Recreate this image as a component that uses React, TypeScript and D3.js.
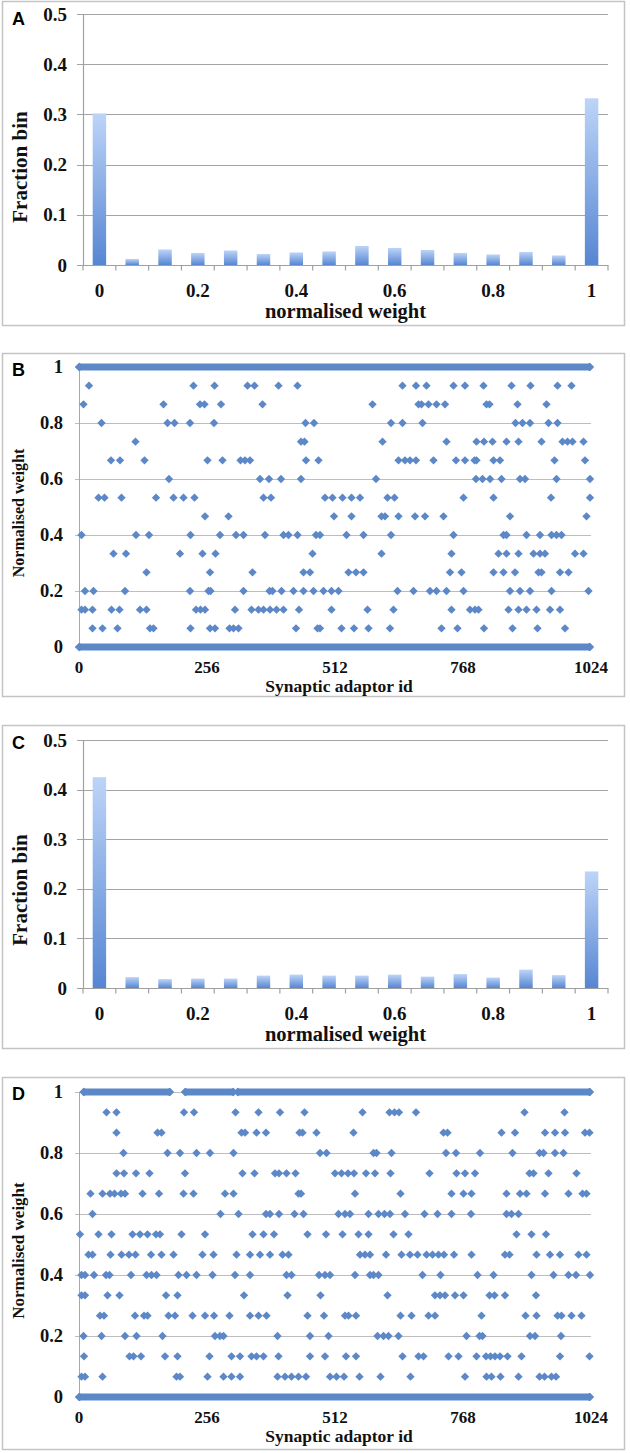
import React from 'react';
import * as d3 from 'd3';

// ---------- Histogram data (panels A and C) ----------
const HIST_BIN_IDS = [0, 1, 2, 3, 4, 5, 6, 7, 8, 9, 10, 11, 12, 13, 14, 15];
const HIST_TICK_BINS = [0, 3, 6, 9, 12, 15];
const HIST_TICK_LABELS = ['0', '0.2', '0.4', '0.6', '0.8', '1'];
const HIST_Y_TICKS = [0, 0.1, 0.2, 0.3, 0.4, 0.5];
const HIST_Y_LABELS = ['0', '0.1', '0.2', '0.3', '0.4', '0.5'];
const A_FRACTIONS = [0.302, 0.012, 0.031, 0.024, 0.029, 0.022, 0.025, 0.027, 0.038, 0.034, 0.030, 0.024, 0.021, 0.026, 0.019, 0.332];
const C_FRACTIONS = [0.425, 0.022, 0.018, 0.019, 0.019, 0.025, 0.027, 0.025, 0.025, 0.027, 0.023, 0.028, 0.021, 0.037, 0.026, 0.235];

// ---------- Scatter data (panels B and D) ----------
const SCATTER_X_TICKS = [0, 256, 512, 768, 1024];
const SCATTER_Y_TICKS = [0, 0.2, 0.4, 0.6, 0.8, 1];
const SCATTER_Y_LABELS = ['0', '0.2', '0.4', '0.6', '0.8', '1'];
const WEIGHT_STEPS = 15; // weights are k/15

// ids whose weight is k/15, index = k (levels 1..14); levels 0 and 15 are given as runs
const B_IDS_BY_LEVEL: number[][] = [
  [],
  [27, 47, 77, 142, 149, 223, 262, 272, 301, 309, 319, 434, 477, 482, 525, 550, 579, 622, 725, 757, 810, 867, 917, 972],
  [5, 12, 27, 65, 81, 122, 135, 234, 243, 252, 312, 345, 359, 369, 382, 395, 409, 440, 505, 577, 629, 745, 782, 792, 799, 859, 879, 895, 915, 942, 962],
  [12, 29, 92, 222, 259, 263, 329, 381, 387, 405, 429, 449, 469, 489, 505, 519, 637, 669, 702, 715, 735, 769, 862, 882, 902, 945, 1019],
  [135, 262, 347, 449, 462, 539, 554, 569, 742, 765, 829, 849, 872, 919, 925, 962, 979],
  [69, 94, 202, 247, 273, 467, 605, 745, 839, 855, 879, 909, 922, 932, 992, 1009],
  [5, 114, 140, 223, 282, 314, 329, 372, 409, 419, 437, 474, 482, 535, 569, 624, 749, 849, 855, 895, 922, 945, 955, 965],
  [252, 299, 510, 545, 605, 612, 639, 672, 692, 729, 862, 1015],
  [39, 51, 85, 154, 189, 209, 231, 369, 384, 492, 507, 527, 545, 562, 617, 631, 769, 829, 944, 1022],
  [180, 362, 380, 404, 444, 594, 794, 807, 822, 845, 882, 892, 955, 1022],
  [64, 82, 131, 257, 287, 323, 332, 342, 454, 479, 639, 652, 662, 674, 709, 754, 772, 791, 795, 829, 842, 951, 1012],
  [113, 444, 451, 607, 735, 795, 810, 827, 855, 879, 925, 967, 977, 987, 1009],
  [45, 177, 191, 222, 270, 453, 470, 624, 647, 687, 873, 887, 902, 939, 957],
  [9, 169, 242, 251, 284, 367, 587, 679, 685, 699, 715, 732, 815, 821, 877, 935],
  [20, 229, 271, 337, 351, 399, 437, 647, 674, 695, 749, 772, 809, 865, 903, 957, 985],
  [],
];
const B_ZERO_RUNS = [[0, 1022]];
const B_ONE_RUNS = [[0, 1022]];

const D_IDS_BY_LEVEL: number[][] = [
  [],
  [5, 12, 47, 195, 202, 257, 289, 305, 322, 397, 412, 425, 439, 454, 502, 515, 530, 561, 603, 663, 772, 815, 825, 843, 879, 921, 931, 945, 954],
  [10, 101, 109, 124, 172, 197, 261, 305, 322, 345, 355, 369, 399, 462, 492, 534, 554, 647, 679, 689, 739, 759, 795, 814, 823, 832, 842, 857, 885, 962, 1021],
  [9, 45, 92, 115, 167, 272, 282, 289, 397, 462, 499, 597, 609, 619, 639, 775, 801, 807, 902, 912, 964],
  [42, 50, 112, 130, 137, 179, 192, 227, 252, 270, 301, 342, 359, 375, 457, 490, 532, 539, 554, 643, 665, 699, 712, 805, 893, 915, 957, 965, 985, 1005],
  [5, 12, 57, 81, 174, 197, 330, 417, 483, 617, 712, 722, 732, 752, 769, 821, 831, 852, 914],
  [5, 12, 30, 54, 61, 104, 135, 145, 155, 199, 215, 235, 267, 312, 342, 415, 425, 480, 492, 502, 552, 582, 589, 599, 687, 723, 797, 829, 905, 949, 979, 994, 1022],
  [19, 27, 63, 85, 100, 113, 144, 165, 189, 247, 269, 315, 342, 362, 382, 407, 419, 562, 572, 582, 614, 645, 662, 677, 695, 707, 719, 730, 750, 785, 852, 861, 915, 942, 962, 999, 1015],
  [2, 39, 65, 107, 122, 137, 154, 162, 205, 252, 347, 369, 390, 457, 494, 527, 559, 579, 629, 659, 875, 905, 934],
  [27, 283, 319, 374, 382, 400, 431, 449, 519, 532, 542, 579, 599, 611, 622, 652, 691, 717, 745, 784, 855, 865, 879],
  [23, 47, 62, 71, 84, 92, 127, 160, 209, 229, 292, 309, 439, 444, 552, 643, 745, 769, 785, 855, 882, 895, 932, 979, 1007, 1015],
  [75, 90, 114, 141, 212, 327, 351, 392, 400, 415, 433, 512, 525, 538, 550, 574, 592, 623, 701, 755, 772, 792, 901, 909, 939, 995],
  [89, 177, 202, 235, 262, 309, 482, 495, 589, 595, 625, 734, 754, 802, 867, 921, 929, 952, 969],
  [75, 157, 165, 325, 332, 355, 374, 441, 447, 475, 549, 729, 737, 845, 872, 932, 952, 972, 1012, 1021],
  [55, 75, 210, 230, 313, 359, 402, 451, 567, 621, 631, 640, 674, 891, 971],
  [],
];
const D_ZERO_RUNS = [[0, 1022]];
const D_ONE_RUNS = [[9, 182], [212, 309], [317, 1022]];

// ---------- styling ----------
const SERIF = '"Liberation Serif", "Times New Roman", serif';
const SANS = '"Liberation Sans", Arial, sans-serif';
const MARK = '#5d88c8';
const BOX = '#c4c4c4';
const LEFT = 2.5;
const RIGHT = 624.5;

function Histogram({ letter, data, boxTop, boxBottom, plotTop, plotBottom, gradId }: any) {
  const x = d3.scaleBand<number>().domain(HIST_BIN_IDS).range([83, 608]).paddingInner(0.59).paddingOuter(0.295);
  const y = d3.scaleLinear().domain([0, 0.5]).range([plotBottom, plotTop]);
  const step = x.step();
  const x0 = x.range()[0];
  const boundaries = d3.range(HIST_BIN_IDS.length + 1).map((i) => x0 + i * step);
  return (
    <g>
      <defs>
        <linearGradient id={gradId} x1="0" y1="0" x2="0" y2="1">
          <stop offset="0%" stopColor="#bdd4f8" />
          <stop offset="100%" stopColor="#5686d2" />
        </linearGradient>
      </defs>
      <rect x={LEFT} y={boxTop} width={RIGHT - LEFT} height={boxBottom - boxTop} fill="#fff" stroke={BOX} strokeWidth={1.5} />
      {HIST_Y_TICKS.filter((t) => t > 0).map((t) => (
        <line key={t} x1={77} x2={608} y1={Math.round(y(t)) + 0.5} y2={Math.round(y(t)) + 0.5} stroke="#a4a4a4" strokeWidth={1.2} />
      ))}
      <line x1={83.5} x2={83.5} y1={y(0.5)} y2={y(0)} stroke="#a0a0a0" strokeWidth={1.2} />
      <line x1={77} x2={608} y1={Math.round(y(0)) + 0.5} y2={Math.round(y(0)) + 0.5} stroke="#a0a0a0" strokeWidth={1.2} />
      {boundaries.map((b, i) => (
        <line key={i} x1={b} x2={b} y1={y(0)} y2={y(0) + 5.5} stroke="#a0a0a0" strokeWidth={1.2} />
      ))}
      {data.map((v: number, i: number) => (
        <rect key={i} x={x(i)} width={x.bandwidth()} y={y(v)} height={y(0) - y(v)} fill={`url(#${gradId})`} />
      ))}
      {HIST_Y_TICKS.map((t, i) => (
        <text key={t} x={67} y={y(t)} dy="0.35em" textAnchor="end" fontFamily={SERIF} fontWeight="bold" fontSize={19} fill="#111">
          {HIST_Y_LABELS[i]}
        </text>
      ))}
      {HIST_TICK_BINS.map((b, i) => (
        <text key={b} x={(x(b) as number) + x.bandwidth() / 2} y={y(0) + 32} textAnchor="middle" fontFamily={SERIF} fontWeight="bold" fontSize={19} fill="#111">
          {HIST_TICK_LABELS[i]}
        </text>
      ))}
      <text x={345.5} y={y(0) + 53} textAnchor="middle" fontFamily={SERIF} fontWeight="bold" fontSize={20.5} fill="#111">
        normalised weight
      </text>
      <text transform={`translate(20,${y(0) - 98}) rotate(-90)`} textAnchor="middle" dominantBaseline="central" fontFamily={SERIF} fontWeight="bold" fontSize={21} fill="#111">
        Fraction bin
      </text>
      <text x={12} y={boxTop + 23} fontFamily={SANS} fontWeight="bold" fontSize={18} fill="#000">
        {letter}
      </text>
    </g>
  );
}

function Scatter({ letter, levels, zeroRuns, oneRuns, boxTop, boxBottom, plotTop, plotBottom, yTitleSize }: any) {
  const x = d3.scaleLinear().domain([0, 1024]).range([79, 591]);
  const y = d3.scaleLinear().domain([0, 1]).range([plotBottom, plotTop]);
  const r = 4.2;
  const points = (levels as number[][]).flatMap((ids, k) => ids.map((id) => ({ id, w: k / WEIGHT_STEPS })));
  const diamond = (cx: number, cy: number) => `M${cx},${cy - r}L${cx + r},${cy}L${cx},${cy + r}L${cx - r},${cy}Z`;
  const band = (run: number[], w: number) => {
    const xa = x(run[0]);
    const xb = x(run[1]);
    const cy = y(w);
    const h = 3.6;
    return `M${xa - r},${cy}L${xa},${cy - r}L${xa + 2},${cy - h}L${xb - 2},${cy - h}L${xb},${cy - r}L${xb + r},${cy}L${xb},${cy + r}L${xb - 2},${cy + h}L${xa + 2},${cy + h}L${xa},${cy + r}Z`;
  };
  return (
    <g>
      <rect x={LEFT} y={boxTop} width={RIGHT - LEFT} height={boxBottom - boxTop} fill="#fff" stroke={BOX} strokeWidth={1.5} />
      {SCATTER_Y_TICKS.map((t) => (
        <line key={t} x1={75} x2={591} y1={Math.round(y(t)) + 0.5} y2={Math.round(y(t)) + 0.5} stroke="#bdbdbd" strokeWidth={1} />
      ))}
      <line x1={79.5} x2={79.5} y1={y(1)} y2={y(0)} stroke="#a8a8a8" strokeWidth={1} />
      {(zeroRuns as number[][]).map((run, i) => (
        <path key={'z' + i} d={band(run, 0)} fill={MARK} />
      ))}
      {(oneRuns as number[][]).map((run, i) => (
        <path key={'o' + i} d={band(run, 1)} fill={MARK} />
      ))}
      {points.map((p, i) => (
        <path key={i} d={diamond(x(p.id), y(p.w))} fill={MARK} />
      ))}
      {SCATTER_Y_TICKS.map((t, i) => (
        <text key={t} x={63} y={y(t)} dy="0.35em" textAnchor="end" fontFamily={SERIF} fontWeight="bold" fontSize={18.5} fill="#111">
          {SCATTER_Y_LABELS[i]}
        </text>
      ))}
      {SCATTER_X_TICKS.map((t) => (
        <text key={t} x={x(t)} y={y(0) + 25.5} textAnchor="middle" fontFamily={SERIF} fontWeight="bold" fontSize={17} fill="#111">
          {String(t)}
        </text>
      ))}
      <text x={(x(0) + x(1024)) / 2 + 4} y={y(0) + 45} textAnchor="middle" fontFamily={SERIF} fontWeight="bold" fontSize={17.5} fill="#111">
        Synaptic adaptor id
      </text>
      <text transform={`translate(18,${(y(0) + y(1)) / 2 + 6}) rotate(-90)`} textAnchor="middle" dominantBaseline="central" fontFamily={SERIF} fontWeight="bold" fontSize={yTitleSize} fill="#111">
        Normalised weight
      </text>
      <text x={12} y={boxTop + 22} fontFamily={SANS} fontWeight="bold" fontSize={18} fill="#000">
        {letter}
      </text>
    </g>
  );
}

export default function App() {
  return (
    <svg width={630} height={1453} style={{ position: 'absolute', left: 0, top: 0, background: '#fff' }}>
      <rect x={0} y={0} width={630} height={1453} fill="#fff" />
      <Histogram letter="A" data={A_FRACTIONS} boxTop={1.5} boxBottom={325.5} plotTop={14} plotBottom={265} gradId="gradA" />
      <Scatter letter="B" levels={B_IDS_BY_LEVEL} zeroRuns={B_ZERO_RUNS} oneRuns={B_ONE_RUNS} boxTop={353.5} boxBottom={696.5} plotTop={367} plotBottom={647} yTitleSize={16} />
      <Histogram letter="C" data={C_FRACTIONS} boxTop={725.5} boxBottom={1048.5} plotTop={740} plotBottom={988} gradId="gradC" />
      <Scatter letter="D" levels={D_IDS_BY_LEVEL} zeroRuns={D_ZERO_RUNS} oneRuns={D_ONE_RUNS} boxTop={1077.5} boxBottom={1449.5} plotTop={1092} plotBottom={1397} yTitleSize={17} />
    </svg>
  );
}
